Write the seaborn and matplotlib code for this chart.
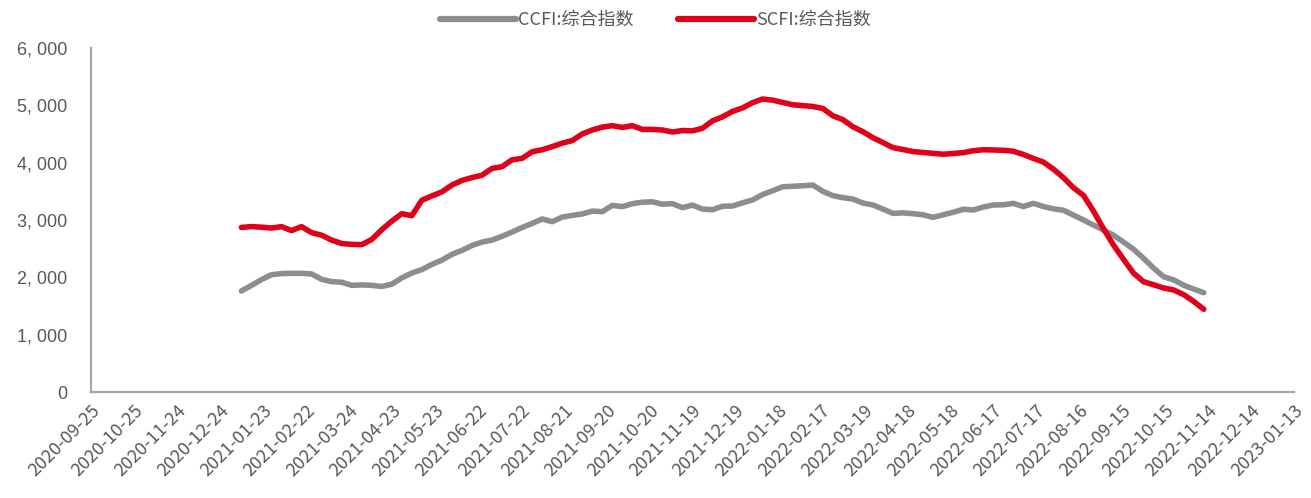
import pandas as pd
import numpy as np
import matplotlib
matplotlib.use("Agg")
import matplotlib.pyplot as plt
import matplotlib.dates as mdates
from matplotlib.ticker import FuncFormatter
import seaborn as sns

# weekly index readings (Fridays), 2021-01-08 .. 2022-11-11
dates = pd.date_range("2021-01-08", "2022-11-11", freq="7D")

ccfi = [1762, 1858, 1960, 2045, 2065, 2070, 2070, 2060, 1965, 1925,
        1915, 1860, 1868, 1860, 1840, 1880, 1990, 2075, 2135, 2225,
        2300, 2400, 2470, 2555, 2615, 2650, 2715, 2790, 2870, 2940,
        3018, 2971, 3050, 3080, 3105, 3155, 3145, 3255, 3233, 3285,
        3310, 3318, 3275, 3285, 3215, 3260, 3190, 3180, 3240, 3244,
        3300, 3350, 3445, 3510, 3580, 3588, 3598, 3610, 3500, 3425,
        3390, 3365, 3295, 3262, 3190, 3115, 3125, 3110, 3090, 3047,
        3090, 3135, 3187, 3175, 3225, 3262, 3265, 3290, 3235, 3290,
        3235, 3195, 3170, 3085, 3000, 2910, 2825, 2735, 2615, 2490,
        2330, 2160, 2010, 1955, 1862, 1795, 1732]

scfi = [2870, 2885, 2875, 2860, 2884, 2815, 2884, 2780, 2735, 2650,
        2590, 2575, 2570, 2660, 2830, 2980, 3110, 3075, 3345, 3420,
        3490, 3610, 3690, 3740, 3780, 3900, 3930, 4050, 4075, 4190,
        4225, 4280, 4340, 4385, 4500, 4570, 4620, 4645, 4615, 4645,
        4580, 4580, 4570, 4535, 4560, 4555, 4600, 4730, 4800, 4895,
        4955, 5047, 5110, 5090, 5050, 5010, 4995, 4980, 4946, 4818,
        4750, 4626, 4540, 4435, 4350, 4263, 4229, 4194, 4177, 4163,
        4147, 4160, 4175, 4208, 4225, 4221, 4215, 4200, 4143, 4074,
        4010, 3887, 3739, 3563, 3429, 3155, 2847, 2562, 2312, 2072,
        1923, 1870, 1814, 1779, 1698, 1579, 1443]

series_names = ["CCFI:综合指数", "SCFI:综合指数"]
colors = ["#8B8E91", "#E1001A"]

df = pd.DataFrame({"date": dates, series_names[0]: ccfi, series_names[1]: scfi})
long = df.melt(id_vars="date", var_name="series", value_name="value")

sns.set_style("white")
plt.rcParams["font.family"] = ["Noto Sans CJK SC", "DejaVu Sans"]
plt.rcParams["axes.unicode_minus"] = False

fig = plt.figure(figsize=(13.11, 4.98), dpi=100)
ax = fig.add_axes([91 / 1311, 1 - 392 / 498, (1294 - 91) / 1311, (392 - 48) / 498])

sns.lineplot(data=long, x="date", y="value", hue="series", hue_order=series_names,
             palette=colors, linewidth=4.0, ax=ax, legend=False)

xstart, xend = pd.Timestamp("2020-09-25"), pd.Timestamp("2023-01-13")
ax.set_xlim(xstart, xend)
ax.set_xticks(pd.date_range(xstart, xend, freq="30D"))
ax.xaxis.set_major_formatter(mdates.DateFormatter("%Y-%m-%d"))
ax.set_ylim(0, 6000)
ax.set_yticks(range(0, 6001, 1000))
ax.yaxis.set_major_formatter(FuncFormatter(lambda v, p: f"{v:,.0f}".replace(",", ", ")))

ax.set_xlabel("")
ax.set_ylabel("")
for s in ["top", "right"]:
    ax.spines[s].set_visible(False)
for s in ["left", "bottom"]:
    ax.spines[s].set_color("#A6A6A6")
    ax.spines[s].set_linewidth(1.6)

ax.tick_params(axis="both", colors="#A6A6A6", length=5, width=1.6, direction="out",
               labelcolor="#595959")
ax.tick_params(axis="y", labelsize=13, pad=12)
ax.tick_params(axis="x", labelsize=13, pad=2)
for lbl in ax.get_yticklabels():
    lbl.set_family(["Liberation Sans", "DejaVu Sans"])
for lbl in ax.get_xticklabels():
    lbl.set_rotation(45)
    lbl.set_ha("right")
    lbl.set_rotation_mode("anchor")

handles = [plt.Line2D([], [], color=c, linewidth=4.5) for c in colors]
fig.legend(handles, series_names, loc="center", bbox_to_anchor=(0.5, 0.96), ncol=2,
           frameon=False, fontsize=13, handlelength=4.2, handletextpad=0.1,
           columnspacing=2.5, labelcolor="#595959")

fig.savefig("out.png", dpi=100)
